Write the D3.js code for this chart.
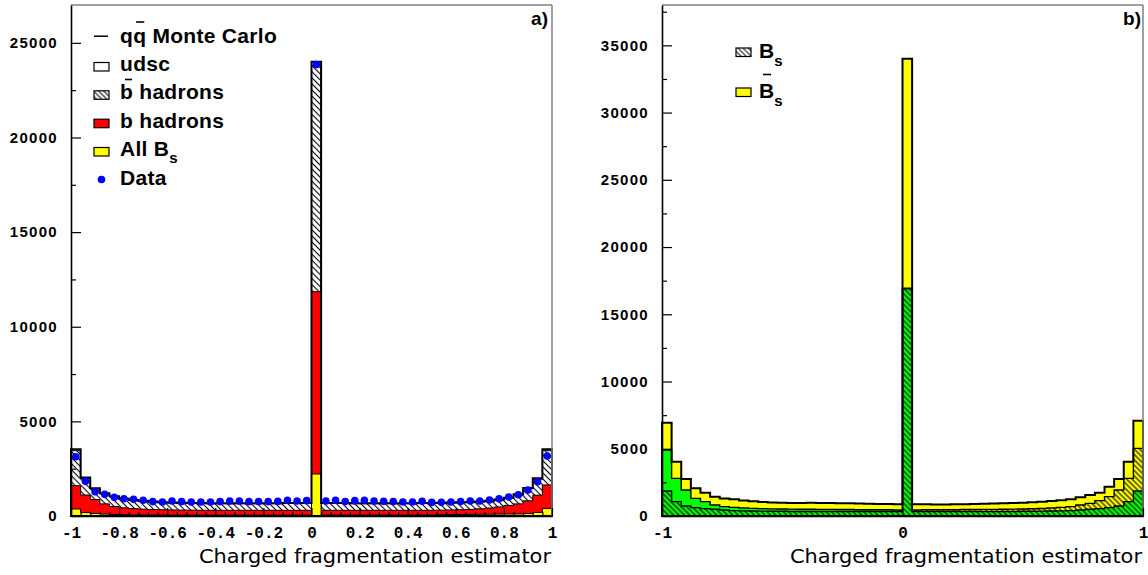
<!DOCTYPE html>
<html><head><meta charset="utf-8">
<script src="https://cdn.jsdelivr.net/npm/d3@7"></script>
<style>body{margin:0;background:#fff} svg{display:block}</style>
</head><body>
<svg id="c" width="1148" height="575"></svg>
<script>
// ---------- data ----------
const binEdges = [-1,-0.96,-0.92,-0.88,-0.84,-0.8,-0.76,-0.72,-0.68,-0.64,-0.6,-0.56,-0.52,-0.48,-0.44,-0.4,-0.36,-0.32,-0.28,-0.24,-0.2,-0.16,-0.12,-0.08,-0.04,0,0.04,0.08,0.12,0.16,0.2,0.24,0.28,0.32,0.36,0.4,0.44,0.48,0.52,0.56,0.6,0.64,0.68,0.72,0.76,0.8,0.84,0.88,0.92,0.96,1];

// panel a) (cumulative levels as drawn)
const qqMC = [3530,2030,1460,1200,1040,920,850,800,760,730, 710,700,690,690,680,680,680,680,680,680,680,680,690,690,690, 24000, 690,690,690,680,680,680,680,680,680,680,690,690,700,710,720,740,770,810,870,960,1150,1480,1990,3530];
const bbarHadrons = [3450,1980,1420,1170,1010,890,820,770,730,700, 680,670,660,660,650,650,650,650,650,650,650,650,660,660,660, 23800, 660,660,660,650,650,650,650,650,650,650,660,660,670,680,690,710,740,780,840,930,1110,1440,1940,3450];
const bHadrons = [1600,1110,870,640,500,430,390,360,340,330, 320,310,310,300,300,300,300,300,300,300,300,300,300,300,300, 11850, 300,300,300,300,300,300,300,300,300,300,300,300,310,320,330,350,380,420,480,560,640,800,1100,1640];
const allBs = [370,180,130,100,80,70,60,55,50,50, 45,45,45,45,45,45,45,45,45,45,45,45,45,45,45, 2220, 50,50,50,50,50,50,50,50,50,50,55,60,70,75,80,85,90,95,100,105,110,130,190,400];
const dataPts = [3130,1830,1285,1145,985,915,880,830,760,740, 790,760,740,740,740,760,790,790,760,760,760,775,830,790,810, 23850, 790,830,760,810,830,790,775,760,740,740,775,720,720,740,760,790,790,845,915,1000,1125,1370,1810,3170];

// panel b)
const bsTotal = [6940,4040,2750,2060,1735,1440,1310,1240, 1150,1090,1040,1000,980,970,960,980,970,960,950,940,930,920,900,890,880, 34000, 880,870,860,860,870,880,900,910,930,950,970,990,1020,1060,1110,1170,1240,1390,1560,1735,2180,2750,4040,7090];
const greenLevel = [4910,2800,1930,1310,1070,820,695,645, 600,570,550,530,520,510,500,500,490,490,480,480,470,470,460,460,450, 16940, 330,330,330,330,330,330,330,340,340,340,340,350,350,360,370,380,400,446,500,545,620,745,1070,1860];
const hatchLevel = [1860,1070,745,620,545,500,446,400, 380,370,360,350,350,340,340,340,330,330,330,330,330,330,330,330,330, 16900, 450,460,460,470,470,480,480,490,490,500,510,520,540,560,600,640,695,820,940,1140,1440,1930,2800,5030];

const yTicksA = [0,5000,10000,15000,20000,25000];
const yMinorA = [2500,7500,12500,17500,22500];
const yTicksB = [0,5000,10000,15000,20000,25000,30000,35000];
const yMinorB = [2500,7500,12500,17500,22500,27500,32500,37500];
const xTicksA = [-1,-0.8,-0.6,-0.4,-0.2,0,0.2,0.4,0.6,0.8,1];
const xTicksB = [-1,0,1];
const xTitle = "Charged fragmentation estimator";

// ---------- drawing ----------
const svg = d3.select("#c");
const defs = svg.append("defs");
function hatch(id, w, sw){
  const p = defs.append("pattern").attr("id",id).attr("patternUnits","userSpaceOnUse")
    .attr("width",w).attr("height",w).attr("patternTransform","rotate(-45)");
  p.append("line").attr("x1",w/2).attr("y1",-1).attr("x2",w/2).attr("y2",w+1)
    .attr("stroke","#000").attr("stroke-width",sw);
}
hatch("hA",4.3,1.1);
hatch("hB",3.8,1.1);
hatch("hL",3.6,1);

const yTop = 5, yBot = 516;
const fmtX = d => d===0 ? "0" : String(+d.toFixed(1));

function stepPath(x,y,vals){
  let d = `M${x(binEdges[0])},${y(0)}`;
  vals.forEach((v,i)=>{ d += `L${x(binEdges[i])},${y(v)}L${x(binEdges[i+1])},${y(v)}`; });
  d += `L${x(binEdges[binEdges.length-1])},${y(0)}Z`;
  return d;
}

function axes(g,x,y,x0,x1,yT,yM,xT,minorX){
  g.append("line").attr("x1",x0).attr("x2",x1).attr("y1",yTop).attr("y2",yTop).attr("stroke","#808080").attr("stroke-width",1.5);
  g.append("line").attr("x1",x1).attr("x2",x1).attr("y1",yTop).attr("y2",yBot).attr("stroke","#808080").attr("stroke-width",1.5);
  const ya = g.append("g").attr("transform",`translate(${x0},0)`)
    .call(d3.axisLeft(y).tickValues(yT).tickSize(-10).tickSizeOuter(0).tickPadding(13).tickFormat(d3.format("d")));
  g.append("g").attr("transform",`translate(${x0},0)`)
    .call(d3.axisLeft(y).tickValues(yM).tickSize(-5).tickSizeOuter(0).tickFormat(""))
    .select(".domain").remove();
  ya.selectAll("text").attr("font-family","Liberation Sans, Arial, sans-serif").attr("font-weight","bold")
    .attr("font-size",15).attr("letter-spacing",1.3).attr("fill","#000");
  const xa = g.append("g").attr("transform",`translate(0,${yBot})`)
    .call(d3.axisBottom(x).tickValues(xT).tickSize(-8).tickSizeOuter(0).tickPadding(11).tickFormat(fmtX));
  if(minorX){
    g.append("g").attr("transform",`translate(0,${yBot})`)
      .call(d3.axisBottom(x).tickValues(minorX).tickSize(-4).tickSizeOuter(0).tickFormat(""))
      .select(".domain").remove();
  }
  xa.selectAll("text").attr("font-family","Liberation Mono, Courier New, monospace").attr("font-weight","bold")
    .attr("font-size",16).attr("fill","#000");
  g.selectAll(".domain").attr("stroke","#000").attr("stroke-width",1.6);
  g.selectAll(".tick line").attr("stroke","#000").attr("stroke-width",1.2);
  g.append("text").attr("x",x1-1).attr("y",563).attr("text-anchor","end")
    .attr("font-family","DejaVu Sans, sans-serif").attr("font-size",19)
    .attr("textLength",352).attr("lengthAdjust","spacingAndGlyphs").text(xTitle);
}

// ---- panel a ----
{
  const x0=71, x1=552;
  const x = d3.scaleLinear().domain([-1,1]).range([x0,x1]);
  const y = d3.scaleLinear().domain([0,27000]).range([yBot,yTop]);
  const g = svg.append("g");
  g.append("path").attr("d",stepPath(x,y,qqMC)).attr("fill","#fff").attr("stroke","none");
  g.append("path").attr("d",stepPath(x,y,bbarHadrons)).attr("fill","url(#hA)").attr("stroke","#000").attr("stroke-width",1);
  g.append("path").attr("d",stepPath(x,y,bHadrons)).attr("fill","#ff0000").attr("stroke","#000").attr("stroke-width",1);
  g.append("path").attr("d",stepPath(x,y,allBs)).attr("fill","#ffff00").attr("stroke","#000").attr("stroke-width",1);
  g.append("path").attr("d",stepPath(x,y,qqMC)).attr("fill","none").attr("stroke","#000").attr("stroke-width",2);
  g.selectAll("circle.d").data(dataPts).join("circle").attr("class","d")
    .attr("cx",(d,i)=>x((binEdges[i]+binEdges[i+1])/2)).attr("cy",d=>y(d)).attr("r",3.8).attr("fill","#0000ff");
  const minor = binEdges.filter(e => Math.abs(Math.round(e*5)-e*5) > 1e-6);
  axes(g,x,y,x0,x1,yTicksA,yMinorA,xTicksA,minor);

  const lf = {"font-family":"Liberation Sans, Arial, sans-serif","font-weight":"bold","font-size":21,"letter-spacing":0.3};
  const L = g.append("g");
  const base = [42.7,71,99.3,127.7,156,184.5];
  const tx = 120;
  function txt(yb){ const t=L.append("text").attr("x",tx).attr("y",yb); Object.entries(lf).forEach(([k,v])=>t.attr(k,v)); return t; }
  L.append("line").attr("x1",94).attr("x2",108).attr("y1",base[0]-6.5).attr("y2",base[0]-6.5).attr("stroke","#000").attr("stroke-width",1.5);
  const t1 = txt(base[0]).text("qq Monte Carlo");
  L.append("rect").attr("x",94).attr("y",base[1]-8.5).attr("width",15).attr("height",8.5).attr("fill","#fff").attr("stroke","#000").attr("stroke-width",1.2);
  txt(base[1]).text("udsc");
  L.append("rect").attr("x",94).attr("y",base[2]-8.5).attr("width",15).attr("height",8.5).attr("fill","url(#hL)").attr("stroke","#000").attr("stroke-width",1.2);
  const t3 = txt(base[2]).text("b hadrons");
  L.append("rect").attr("x",94).attr("y",base[3]-8.5).attr("width",15).attr("height",8.5).attr("fill","#ff0000").attr("stroke","#000").attr("stroke-width",1.2);
  txt(base[3]).text("b hadrons");
  L.append("rect").attr("x",94).attr("y",base[4]-8.5).attr("width",15).attr("height",8.5).attr("fill","#ffff00").attr("stroke","#000").attr("stroke-width",1.2);
  const t5 = txt(base[4]); t5.append("tspan").text("All B"); t5.append("tspan").attr("font-size",15).attr("dy",7).text("s");
  L.append("circle").attr("cx",101.5).attr("cy",base[5]-5).attr("r",3.8).attr("fill","#0000ff");
  txt(base[5]).text("Data");
  const n1 = t1.node(); const qs = n1.getStartPositionOfChar(1).x, qe = n1.getEndPositionOfChar(1).x;
  L.append("line").attr("x1",qs+3).attr("x2",qe-2).attr("y1",22).attr("y2",22).attr("stroke","#000").attr("stroke-width",1.6);
  const n3 = t3.node(); const bs = n3.getStartPositionOfChar(0).x, be = n3.getEndPositionOfChar(0).x;
  L.append("line").attr("x1",bs+5).attr("x2",be-1).attr("y1",79.5).attr("y2",79.5).attr("stroke","#000").attr("stroke-width",1.6);

  g.append("text").attr("x",548).attr("y",25).attr("text-anchor","end")
    .attr("font-family","Liberation Sans, Arial, sans-serif").attr("font-weight","bold").attr("font-size",19).text("a)");
}

// ---- panel b ----
{
  const x0=662, x1=1143;
  const x = d3.scaleLinear().domain([-1,1]).range([x0,x1]);
  const y = d3.scaleLinear().domain([0,38000]).range([yBot,yTop]);
  const g = svg.append("g");
  g.append("path").attr("d",stepPath(x,y,bsTotal)).attr("fill","#ffff00").attr("stroke","none");
  g.append("path").attr("d",stepPath(x,y,greenLevel)).attr("fill","#00ff00").attr("stroke","#000").attr("stroke-width",1.4);
  g.append("path").attr("d",stepPath(x,y,hatchLevel)).attr("fill","url(#hB)").attr("stroke","#000").attr("stroke-width",1.4);
  g.append("path").attr("d",stepPath(x,y,bsTotal)).attr("fill","none").attr("stroke","#000").attr("stroke-width",2);
  axes(g,x,y,x0,x1,yTicksB,yMinorB,xTicksB,null);

  const L = g.append("g");
  const lf = {"font-family":"Liberation Sans, Arial, sans-serif","font-weight":"bold","font-size":21};
  function txt(xx,yb){ const t=L.append("text").attr("x",xx).attr("y",yb); Object.entries(lf).forEach(([k,v])=>t.attr(k,v)); return t; }
  L.append("rect").attr("x",736).attr("y",48).attr("width",15).attr("height",8.5).attr("fill","url(#hL)").attr("stroke","#000").attr("stroke-width",1.2);
  const r1 = txt(759,57.5); r1.append("tspan").text("B"); r1.append("tspan").attr("font-size",15).attr("dy",8).text("s");
  L.append("rect").attr("x",736).attr("y",88).attr("width",15).attr("height",8.5).attr("fill","#ffff00").attr("stroke","#000").attr("stroke-width",1.2);
  const r2 = txt(759,97.5); r2.append("tspan").text("B"); r2.append("tspan").attr("font-size",15).attr("dy",8).text("s");
  L.append("line").attr("x1",763).attr("x2",771).attr("y1",74.5).attr("y2",74.5).attr("stroke","#000").attr("stroke-width",1.6);

  g.append("text").attr("x",1141).attr("y",25).attr("text-anchor","end")
    .attr("font-family","Liberation Sans, Arial, sans-serif").attr("font-weight","bold").attr("font-size",19).text("b)");
}
</script>
</body></html>
